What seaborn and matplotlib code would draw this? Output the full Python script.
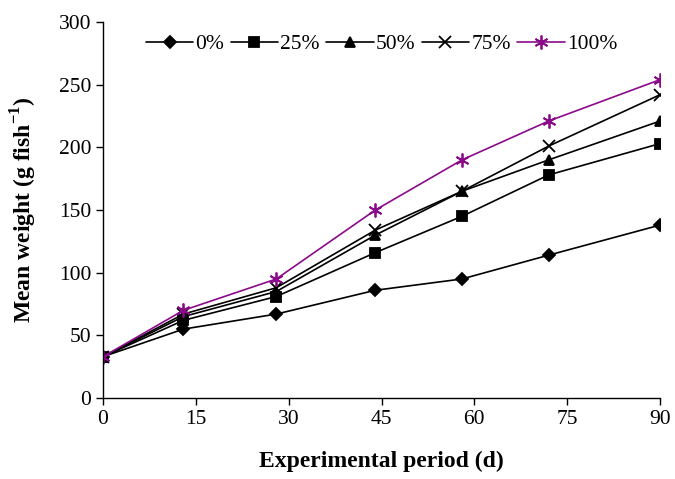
import pandas as pd
import seaborn as sns
import matplotlib.pyplot as plt

days = [0, 13, 28, 44, 58, 72, 90]
w0 = [33, 55, 67, 86, 95, 114, 138]
w25 = [33, 62, 81, 116, 145, 178, 203]
w50 = [33, 65, 85, 130, 165, 190, 221]
w75 = [33, 67, 88, 134, 165, 201, 242]
w100 = [33, 70, 95, 150, 190, 221, 254]
groups = ['0%', '25%', '50%', '75%', '100%']

rows = []
for g, vals in zip(groups, [w0, w25, w50, w75, w100]):
    for d, v in zip(days, vals):
        rows.append({'day': d, 'weight': v, 'group': g})
df = pd.DataFrame(rows)

sns.set_style('ticks')
plt.rcParams['font.family'] = ['Liberation Serif', 'DejaVu Serif']
plt.rcParams['mathtext.fontset'] = 'custom'
plt.rcParams['mathtext.rm'] = 'Liberation Serif'
plt.rcParams['mathtext.bf'] = 'Liberation Serif:bold'
plt.rcParams['text.color'] = 'black'
plt.rcParams['axes.labelcolor'] = 'black'

fig = plt.figure(figsize=(6.75, 4.79), dpi=100)
ax = fig.add_axes([0.1526, 0.169, 0.8252, 0.785])

pal = {'0%': 'black', '25%': 'black', '50%': 'black', '75%': 'black', '100%': '#8B0A8B'}
marks = {'0%': 'D', '25%': 's', '50%': '^', '75%': 'x', '100%': (6, 2, 0)}
sizes = {'0%': 6, '25%': 7, '50%': 7.5, '75%': 8, '100%': 10}

for g in groups:
    sub = df[df['group'] == g]
    sns.lineplot(data=sub, x='day', y='weight', ax=ax, color=pal[g], marker=marks[g],
                 markersize=sizes[g], markeredgecolor=pal[g], markeredgewidth=1.3,
                 linewidth=1.2, label=g)

ax.set_xlim(0, 90)
ax.set_ylim(0, 300)
ax.set_xticks(range(0, 91, 15))
ax.set_yticks(range(0, 301, 50))
ax.tick_params(labelsize=15.5, length=5, width=1, color='black', labelcolor='black')
for s in ['left', 'bottom']:
    ax.spines[s].set_color('black')
    ax.spines[s].set_linewidth(1)
ax.spines['top'].set_visible(False)
ax.spines['right'].set_visible(False)

ax.set_xlabel('Experimental period (d)', fontsize=17, fontweight='bold', labelpad=16)
ax.set_ylabel('Mean weight (g fish$^{\\mathbf{-1}}$)', fontsize=17, fontweight='bold', labelpad=14)

ax.legend(loc='upper center', bbox_to_anchor=(0.5, 0.99), ncol=5, frameon=False,
          fontsize=15.5, handlelength=2.2, handletextpad=0.1, columnspacing=0.3,
          borderaxespad=0)

plt.savefig('out.png', dpi=100)
